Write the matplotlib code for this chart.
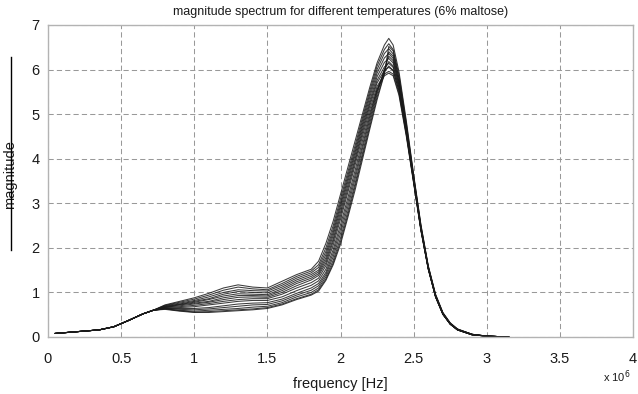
"""Magnitude spectra for different temperatures (6% maltose)."""
import matplotlib
matplotlib.use("Agg")
import matplotlib.pyplot as plt
from matplotlib.lines import Line2D
import numpy as np

# frequency in units of 1e6 Hz
freq_head = [0.05, 0.2, 0.35, 0.45, 0.55, 0.65, 0.72]
mag_head = [0.08, 0.12, 0.16, 0.23, 0.37, 0.52, 0.60]

freq_tail = [0.8, 0.9, 1.0, 1.1, 1.2, 1.3, 1.4, 1.5, 1.6, 1.7, 1.8, 1.85, 1.9, 1.95,
             2.0, 2.05, 2.1, 2.15, 2.2, 2.25, 2.3, 2.33, 2.36, 2.4, 2.45, 2.5, 2.55,
             2.6, 2.65, 2.7, 2.75, 2.8, 2.9, 3.0, 3.15]

c0 = [0.72, 0.80, 0.88, 0.98, 1.10, 1.17, 1.12, 1.10, 1.25, 1.40, 1.52, 1.70, 2.10, 2.60, 3.20, 3.80, 4.40, 5.00, 5.60, 6.15, 6.55, 6.70, 6.55, 5.95, 4.85, 3.65, 2.52, 1.60, 0.96, 0.55, 0.32, 0.18, 0.06, 0.02, 0.00]
c1 = [0.71, 0.78, 0.85, 0.94, 1.05, 1.12, 1.08, 1.06, 1.20, 1.36, 1.48, 1.62, 2.00, 2.50, 3.10, 3.70, 4.30, 4.92, 5.52, 6.08, 6.45, 6.58, 6.45, 5.88, 4.80, 3.62, 2.50, 1.59, 0.95, 0.54, 0.31, 0.18, 0.06, 0.02, 0.00]
c2 = [0.70, 0.76, 0.82, 0.90, 1.00, 1.06, 1.04, 1.03, 1.16, 1.32, 1.44, 1.56, 1.92, 2.42, 3.02, 3.62, 4.22, 4.85, 5.45, 6.00, 6.36, 6.47, 6.35, 5.80, 4.75, 3.60, 2.48, 1.58, 0.94, 0.54, 0.31, 0.17, 0.06, 0.02, 0.00]
c3 = [0.69, 0.74, 0.80, 0.86, 0.96, 1.02, 1.00, 0.99, 1.12, 1.28, 1.40, 1.50, 1.85, 2.35, 2.95, 3.55, 4.15, 4.78, 5.38, 5.92, 6.26, 6.36, 6.25, 5.72, 4.70, 3.57, 2.46, 1.57, 0.93, 0.53, 0.30, 0.17, 0.06, 0.02, 0.00]
c4 = [0.68, 0.73, 0.78, 0.84, 0.92, 0.97, 0.96, 0.95, 1.08, 1.24, 1.36, 1.46, 1.78, 2.28, 2.88, 3.48, 4.08, 4.72, 5.30, 5.84, 6.16, 6.25, 6.15, 5.65, 4.65, 3.54, 2.44, 1.56, 0.92, 0.53, 0.30, 0.17, 0.06, 0.02, 0.00]
c5 = [0.67, 0.72, 0.76, 0.80, 0.88, 0.93, 0.93, 0.92, 1.04, 1.20, 1.32, 1.42, 1.72, 2.20, 2.80, 3.40, 4.00, 4.65, 5.24, 5.76, 6.06, 6.14, 6.05, 5.58, 4.62, 3.52, 2.43, 1.55, 0.92, 0.52, 0.30, 0.17, 0.06, 0.02, 0.00]
c6 = [0.67, 0.70, 0.74, 0.78, 0.84, 0.89, 0.90, 0.89, 1.00, 1.15, 1.28, 1.38, 1.66, 2.14, 2.72, 3.32, 3.94, 4.58, 5.18, 5.70, 5.98, 6.05, 5.98, 5.52, 4.58, 3.50, 2.42, 1.54, 0.91, 0.52, 0.29, 0.16, 0.05, 0.02, 0.00]
c7 = [0.66, 0.68, 0.71, 0.75, 0.80, 0.84, 0.86, 0.86, 0.96, 1.10, 1.22, 1.32, 1.60, 2.06, 2.64, 3.24, 3.86, 4.50, 5.10, 5.62, 5.90, 5.96, 5.90, 5.46, 4.54, 3.47, 2.40, 1.53, 0.90, 0.51, 0.29, 0.16, 0.05, 0.02, 0.00]
c8 = [0.65, 0.66, 0.68, 0.72, 0.76, 0.80, 0.82, 0.82, 0.90, 1.04, 1.16, 1.26, 1.52, 1.96, 2.52, 3.12, 3.74, 4.40, 5.02, 5.55, 5.86, 5.92, 5.86, 5.42, 4.50, 3.45, 2.38, 1.52, 0.90, 0.51, 0.29, 0.16, 0.05, 0.02, 0.00]
c9 = [0.64, 0.64, 0.64, 0.66, 0.70, 0.74, 0.76, 0.77, 0.85, 0.98, 1.10, 1.20, 1.45, 1.88, 2.42, 3.02, 3.64, 4.30, 4.95, 5.55, 5.95, 6.08, 5.98, 5.52, 4.56, 3.48, 2.40, 1.53, 0.90, 0.51, 0.29, 0.16, 0.05, 0.02, 0.00]
c10 = [0.64, 0.62, 0.61, 0.63, 0.66, 0.69, 0.72, 0.73, 0.81, 0.94, 1.05, 1.15, 1.40, 1.80, 2.32, 2.92, 3.55, 4.22, 4.88, 5.50, 5.98, 6.18, 6.08, 5.60, 4.60, 3.50, 2.41, 1.53, 0.90, 0.51, 0.29, 0.16, 0.05, 0.02, 0.00]
c11 = [0.63, 0.60, 0.58, 0.60, 0.62, 0.64, 0.67, 0.69, 0.77, 0.90, 1.00, 1.10, 1.35, 1.72, 2.22, 2.82, 3.45, 4.12, 4.80, 5.45, 6.00, 6.30, 6.20, 5.66, 4.64, 3.52, 2.42, 1.54, 0.91, 0.51, 0.29, 0.16, 0.05, 0.02, 0.00]
c12 = [0.63, 0.59, 0.56, 0.57, 0.59, 0.61, 0.63, 0.66, 0.74, 0.86, 0.96, 1.06, 1.30, 1.66, 2.14, 2.74, 3.38, 4.05, 4.72, 5.38, 5.92, 6.40, 6.30, 5.72, 4.68, 3.54, 2.43, 1.55, 0.91, 0.52, 0.29, 0.16, 0.05, 0.02, 0.00]
c13 = [0.62, 0.58, 0.55, 0.55, 0.57, 0.59, 0.61, 0.64, 0.72, 0.84, 0.94, 1.03, 1.27, 1.62, 2.08, 2.68, 3.30, 3.98, 4.66, 5.32, 5.90, 6.52, 6.42, 5.80, 4.72, 3.56, 2.44, 1.55, 0.92, 0.52, 0.30, 0.16, 0.05, 0.02, 0.00]

curves = [c0, c1, c2, c3, c4, c5, c6, c7, c8, c9, c10, c11, c12, c13]
xticks = [0, 0.5, 1, 1.5, 2, 2.5, 3, 3.5, 4]
xticklabels = ["0", "0.5", "1", "1.5", "2", "2.5", "3", "3.5", "4"]
yticks = [0, 1, 2, 3, 4, 5, 6, 7]

plt.rcParams["font.family"] = ["Liberation Sans", "DejaVu Sans"]

fig = plt.figure(figsize=(6.38, 3.94), dpi=100)
ax = fig.add_axes([48 / 638, 57 / 394, 585 / 638, 312 / 394])

freq = np.array(freq_head + freq_tail)
for c in curves:
    ax.plot(freq, np.array(mag_head + c), color="0.1", linewidth=0.75, alpha=0.85)

ax.set_xlim(0, 4)
ax.set_ylim(0, 7)
ax.set_xticks(xticks)
ax.set_xticklabels(xticklabels)
ax.set_yticks(yticks)
ax.grid(True, color="0.6", linestyle=(0, (5, 3)), linewidth=0.75)
for s in ax.spines.values():
    s.set_color("0.7")
    s.set_linewidth(1.0)
ax.tick_params(length=0, labelsize=10.5, colors="0.1")
ax.tick_params(axis="x", pad=11)
ax.tick_params(axis="y", pad=6)

ax.set_title("magnitude spectrum for different temperatures (6% maltose)",
             fontsize=9, pad=7, color="0.1")
ax.set_xlabel("frequency [Hz]", fontsize=10.5, labelpad=8, color="0.1")
ax.set_ylabel("magnitude", fontsize=10.5, color="0.1")
ax.yaxis.set_label_coords(-0.053, 0.522)
fig.text(603 / 638, 1 - 377 / 394, r"x 10$^{6}$", fontsize=8, va="center", color="0.1")

# stray vertical rule through the y label, as in the source image
fig.add_artist(Line2D([11 / 638, 11 / 638], [1 - 57 / 394, 1 - 250 / 394],
                      color="black", linewidth=1.0))

fig.savefig("out.png", dpi=100)
